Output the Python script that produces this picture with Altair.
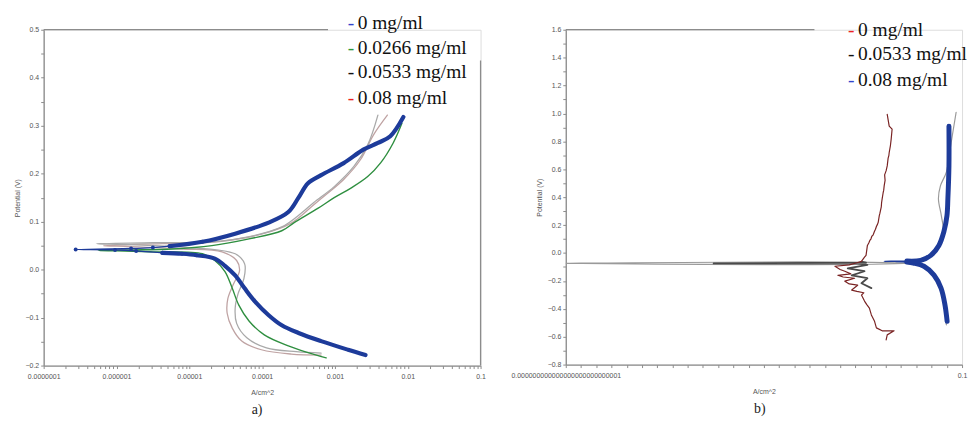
import altair as alt
import pandas as pd

# ---------------- Panel a) : log10(current density, A/cm^2) and potential (V) ----------------
A_LABELS = ["0 mg/ml", "0.0266 mg/ml", "0.0533 mg/ml", "0.08 mg/ml"]
A_LEGEND_DASH = ["#3344cc", "#2e9a3e", "#111111", "#ee2222"]

# 0 mg/ml (blue, thick)
A0_CAT_LOGI = [-2.58, -2.82, -3.19, -3.50, -3.73, -3.91, -4.10, -4.24, -4.37, -4.51, -4.65, -4.90, -5.10, -5.37, -5.73, -6.02, -6.56]
A0_CAT_E = [-0.178, -0.167, -0.149, -0.132, -0.116, -0.095, -0.066, -0.039, -0.012, 0.008, 0.023, 0.030, 0.033, 0.035, 0.039, 0.041, 0.042]
A0_AN_LOGI = [-5.80, -5.50, -5.27, -4.82, -4.37, -3.91, -3.64, -3.50, -3.37, -3.19, -2.88, -2.61, -2.41, -2.24, -2.06]
A0_AN_E = [0.044, 0.046, 0.049, 0.058, 0.075, 0.098, 0.120, 0.150, 0.180, 0.197, 0.222, 0.250, 0.264, 0.278, 0.318]

# 0.0266 mg/ml (green)
A1_CAT_LOGI = [-3.12, -3.37, -3.64, -3.97, -4.18, -4.32, -4.41, -4.51, -4.65, -4.82, -5.50, -6.00, -6.25]
A1_CAT_E = [-0.184, -0.173, -0.159, -0.136, -0.107, -0.074, -0.039, -0.004, 0.019, 0.033, 0.037, 0.039, 0.040]
A1_AN_LOGI = [-5.80, -5.23, -4.69, -4.18, -3.73, -3.56, -3.23, -3.01, -2.78, -2.55, -2.37, -2.20, -2.08]
A1_AN_E = [0.041, 0.043, 0.050, 0.064, 0.081, 0.098, 0.128, 0.150, 0.170, 0.194, 0.223, 0.264, 0.305]

# 0.0533 mg/ml (light grey)
A2_CAT_LOGI = [-3.19, -3.53, -3.94, -4.21, -4.35, -4.37, -4.33, -4.25, -4.24, -4.37, -5.10, -5.80, -6.28]
A2_CAT_E = [-0.174, -0.171, -0.163, -0.142, -0.112, -0.080, -0.050, -0.019, 0.012, 0.033, 0.047, 0.052, 0.054]
A2_AN_LOGI = [-5.50, -4.69, -4.14, -3.73, -3.46, -3.29, -3.01, -2.74, -2.55, -2.41]
A2_AN_E = [0.056, 0.058, 0.070, 0.089, 0.118, 0.140, 0.173, 0.215, 0.260, 0.322]

# 0.08 mg/ml (pinkish grey)
A3_CAT_LOGI = [-3.19, -3.60, -4.01, -4.28, -4.41, -4.48, -4.47, -4.39, -4.31, -4.35, -4.55, -5.10, -5.80, -6.18]
A3_CAT_E = [-0.178, -0.176, -0.167, -0.149, -0.122, -0.091, -0.060, -0.029, -0.002, 0.019, 0.037, 0.043, 0.048, 0.050]
A3_AN_LOGI = [-5.37, -4.62, -4.01, -3.60, -3.33, -3.15, -2.88, -2.65, -2.47, -2.28]
A3_AN_E = [0.054, 0.058, 0.074, 0.097, 0.130, 0.153, 0.188, 0.229, 0.281, 0.322]

A_LINE_COLORS = ["#1d3b9a", "#2f8f40", "#a9a9a9", "#bfa3a3"]

# ---------------- Panel b) ----------------
B_LABELS = ["0 mg/ml", "0.0533 mg/ml", "0.08 mg/ml"]
B_LEGEND_DASH = ["#ee2222", "#111111", "#3344cc"]

# 0 mg/ml (dark red, noisy)
B0_LOGI = [-5.98, -5.91, -5.46, -6.24, -6.62, -6.75, -6.95, -7.08, -7.25, -7.40, -7.60, -7.45, -7.90, -8.24, -7.85,
           -8.40, -8.69, -8.05, -8.80, -9.15, -8.30, -8.69, -9.00, -9.34, -8.40, -7.90, -7.60, -7.40, -7.30, -7.21,
           -7.12, -7.05, -6.98, -6.92, -6.84, -6.80, -6.75, -6.68, -6.62, -6.55, -6.50, -6.43, -6.40, -6.36, -6.30,
           -6.28, -6.24, -6.18, -6.14, -6.11, -6.05, -6.08, -5.98, -5.91, -5.85, -5.80, -5.78, -5.70, -5.65, -5.59,
           -5.78, -5.91]
B0_E = [-0.623, -0.587, -0.558, -0.558, -0.537, -0.487, -0.444, -0.395, -0.370, -0.345, -0.302, -0.285, -0.275, -0.266, -0.231,
        -0.222, -0.202, -0.181, -0.172, -0.160, -0.150, -0.131, -0.118, -0.095, -0.085, -0.070, -0.060, -0.030, -0.017, 0.054,
        0.072, 0.090, 0.100, 0.120, 0.128, 0.140, 0.154, 0.170, 0.190, 0.205, 0.220, 0.268, 0.280, 0.300, 0.330,
        0.360, 0.389, 0.430, 0.450, 0.481, 0.520, 0.560, 0.590, 0.624, 0.680, 0.700, 0.720, 0.770, 0.816, 0.887,
        0.909, 0.994]

# 0.0533 mg/ml (black cluster + long spike)
B1_LOGI = [-6.95, -7.60, -7.21, -8.24, -7.40, -8.50, -7.21, -7.85, -17.30, -7.30, -7.60]
B1_E = [-0.252, -0.217, -0.181, -0.160, -0.131, -0.110, -0.085, -0.074, -0.075, -0.070, -0.062]

# thin grey trace along the blue one
B2_LOGI = [-2.03, -2.16, -2.42, -2.87, -3.52, -4.50, -27.0, -4.50, -3.71, -3.07, -2.55, -2.23, -2.36, -2.55, -2.42, -2.03, -1.71, -1.39]
B2_E = [-0.515, -0.373, -0.252, -0.159, -0.095, -0.076, -0.074, -0.072, -0.055, -0.017, 0.054, 0.154, 0.268, 0.389, 0.481, 0.580, 0.794, 1.008]

# 0.08 mg/ml (blue, thick)
B3_CAT_LOGI = [-1.98, -2.12, -2.38, -2.84, -3.50, -4.20, -4.62, -5.40, -6.11]
B3_CAT_E = [-0.49, -0.373, -0.252, -0.159, -0.095, -0.072, -0.065, -0.061, -0.060]
B3_AN_LOGI = [-5.40, -4.62, -3.71, -3.05, -2.52, -2.19, -1.99, -1.93, -1.86, -1.86]
B3_AN_E = [-0.059, -0.058, -0.053, -0.017, 0.054, 0.154, 0.268, 0.389, 0.624, 0.908]


def frame(series, cat_logi, cat_e, an_logi=(), an_e=()):
    rows = []
    k = 0
    for li, e in zip(cat_logi, cat_e):
        rows.append({"series": series, "branch": "c", "idx": k, "logI": li, "I": 10 ** li, "E": e})
        k += 1
    for li, e in zip(an_logi, an_e):
        rows.append({"series": series, "branch": "a", "idx": k, "logI": li, "I": 10 ** li, "E": e})
        k += 1
    return pd.DataFrame(rows)


AXIS_COLOR = "#8c8c8c"
LABEL_FONT = "Liberation Sans"
SERIF = "Liberation Serif"
DUMMY = pd.DataFrame({"d": [0]})


def txt(x, y, s, color="#111111", size=19.6, font=SERIF, align="left"):
    return alt.Chart(DUMMY).mark_text(font=font, fontSize=size, color=color, align=align,
                                      baseline="middle").encode(
        x=alt.value(x), y=alt.value(y), text=alt.value(s))


def hrule(x1, x2, y, color=AXIS_COLOR, w=1.3):
    return alt.Chart(DUMMY).mark_rule(color=color, strokeWidth=w).encode(
        x=alt.value(x1), x2=alt.value(x2), y=alt.value(y))


def vrule(x, y1, y2, color=AXIS_COLOR, w=1.3):
    return alt.Chart(DUMMY).mark_rule(color=color, strokeWidth=w).encode(
        x=alt.value(x), y=alt.value(y1), y2=alt.value(y2))


def axis(title, values, expr, pad, tpad):
    return alt.Axis(values=values, title=title, grid=False, domainColor=AXIS_COLOR, domainWidth=1.3,
                    tickColor=AXIS_COLOR, tickSize=3, labelFont=LABEL_FONT, labelFontSize=7,
                    labelColor="#555555", labelOverlap=False, labelFlush=False, labelBound=False,
                    labelPadding=pad, labelExpr=expr,
                    titleFont=LABEL_FONT, titleFontSize=7, titleFontWeight="normal", titleColor="#555555",
                    titlePadding=tpad)


# ---------------- build panel a ----------------
WA, HA = 441, 339
a_blue = frame(A_LABELS[0], A0_CAT_LOGI, A0_CAT_E, A0_AN_LOGI, A0_AN_E)
a_green = frame(A_LABELS[1], A1_CAT_LOGI, A1_CAT_E, A1_AN_LOGI, A1_AN_E)
a_g1 = frame(A_LABELS[2], A2_CAT_LOGI, A2_CAT_E, A2_AN_LOGI, A2_AN_E)
a_g2 = frame(A_LABELS[3], A3_CAT_LOGI, A3_CAT_E, A3_AN_LOGI, A3_AN_E)

xa_vals = []
for d in range(-7, -1):
    for m in range(1, 10):
        xa_vals.append(float(f"{m}e{d}"))
xa_vals.append(0.1)
ya_vals = [round(-0.2 + 0.05 * k, 2) for k in range(15)]

xa = alt.X("I:Q", scale=alt.Scale(type="log", domain=[1e-7, 0.1], nice=False),
           axis=axis("A/cm^2", xa_vals,
                     "abs(log(datum.value)/LN10 - round(log(datum.value)/LN10)) < 0.001 ? format(datum.value, '.' + (-round(log(datum.value)/LN10)) + 'f') : ''",
                     4, 9))
ya = alt.Y("E:Q", scale=alt.Scale(domain=[-0.2, 0.5], nice=False, zero=False),
           axis=axis("Potential (V)", ya_vals,
                     "abs(datum.value*10 - round(datum.value*10)) < 0.01 ? format(datum.value, '.1f') : ''",
                     2, 5))


def line(df, color, w, x, y, detail=False, interp="catmull-rom"):
    enc = dict(x=x, y=y, order=alt.Order("idx:Q"))
    if detail:
        enc["detail"] = "branch:N"
    return alt.Chart(df).mark_line(color=color, strokeWidth=w, clip=True, interpolate=interp,
                                   strokeJoin="round", strokeCap="round").encode(**enc)


a_layers = [
    line(a_g2, A_LINE_COLORS[3], 1.3, xa, ya),
    line(a_g1, A_LINE_COLORS[2], 1.3, xa, ya),
    line(a_green, A_LINE_COLORS[1], 1.4, xa, ya),
    line(a_blue, A_LINE_COLORS[0], 1.3, xa, ya),
    line(a_blue[a_blue["logI"] > -5.45], A_LINE_COLORS[0], 4.2, xa, ya, detail=True),
    alt.Chart(a_blue[a_blue["logI"] < -4.8]).mark_circle(color=A_LINE_COLORS[0], size=16, opacity=1).encode(x=xa, y=ya),
    hrule(0, 287, 0),
    vrule(WA, 31, HA),
]
ay = [-7, 18, 43, 69]
for i, lab in enumerate(A_LABELS):
    a_layers.append(txt(307, ay[i], "-", color=A_LEGEND_DASH[i]))
    a_layers.append(txt(317, ay[i], lab))
a_layers.append(txt(210, HA + 45, "a)", color="#222222", size=14))
panel_a = alt.layer(*a_layers).properties(width=WA, height=HA)

# ---------------- build panel b ----------------
WB, HB = 400, 338
b_red = frame(B_LABELS[0], B0_LOGI, B0_E)
b_black = frame(B_LABELS[1], B1_LOGI, B1_E)
b_grey = frame("grey", B2_LOGI, B2_E)
b_blue = frame(B_LABELS[2], B3_CAT_LOGI, B3_CAT_E, B3_AN_LOGI, B3_AN_E)

xb_vals = [float(f"1e{d}") for d in range(-27, 0)]
yb_vals = [round(-0.8 + 0.1 * k, 1) for k in range(25)]
xb = alt.X("I:Q", scale=alt.Scale(type="log", domain=[1e-27, 0.1], nice=False),
           axis=axis("A/cm^2", xb_vals,
                     "datum.value < 1e-26 ? '0.000000000000000000000000001' : (datum.value > 0.05 ? '0.1' : '')",
                     4, 9))
yb = alt.Y("E:Q", scale=alt.Scale(domain=[-0.8, 1.6], nice=False, zero=False),
           axis=axis("Potential (V)", yb_vals,
                     "abs(round(datum.value*10)) % 2 == 0 ? format(datum.value, '.1f') : ''",
                     2, 5))

b_layers = [
    line(b_grey, "#9a9a9a", 1.2, xb, yb),
    line(b_black, "#4a4a4a", 1.8, xb, yb, interp="linear"),
    line(b_red, "#7a2424", 1.2, xb, yb, interp="linear"),
    line(b_blue, "#1d3b9a", 1.3, xb, yb),
    line(b_blue[b_blue["logI"] > -5.0], "#1d3b9a", 5, xb, yb, detail=True),
    hrule(0, 251, 0),
]
by = [0, 25, 51]
for i, lab in enumerate(B_LABELS):
    b_layers.append(txt(285, by[i], "-", color=B_LEGEND_DASH[i]))
    b_layers.append(txt(295, by[i], lab))
b_layers.append(txt(190, HB + 45, "b)", color="#222222", size=14))
panel_b = alt.layer(*b_layers).properties(width=WB, height=HB)

chart = alt.hconcat(panel_a, panel_b, spacing=86, bounds="flush").properties(
    padding={"left": 4, "top": 2, "right": 0, "bottom": 0}
).configure_view(stroke=None).configure(background="#ffffff")

chart.save("out.html", embed_options={"renderer": "svg", "actions": False})
